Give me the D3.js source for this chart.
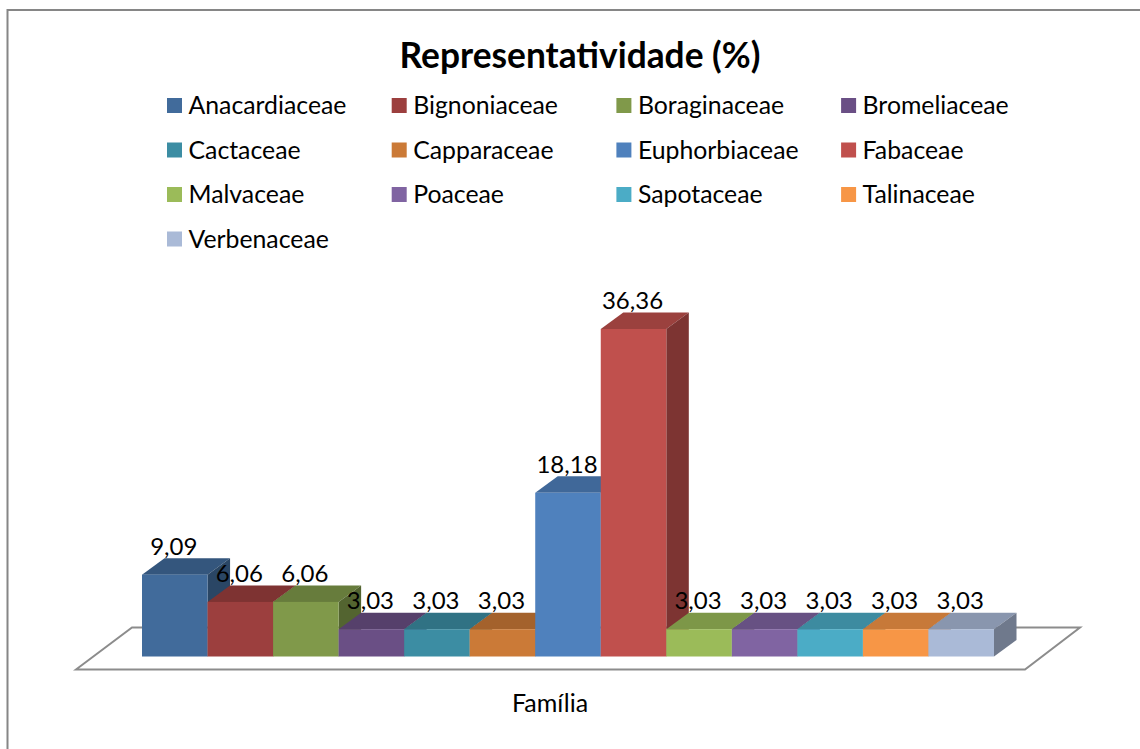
<!DOCTYPE html>
<meta charset='utf-8'>
<head>
  <style>
    html, body { margin: 0; padding: 0; background: #fff; overflow: hidden; }
    text { font-family: Lato, 'Open Sans', sans-serif; fill: #000; }
  </style>
</head>
<body>
<script src='https://d3js.org/d3.v7.min.js'></script>
<script>

var families = ['Anacardiaceae', 'Bignoniaceae', 'Boraginaceae', 'Bromeliaceae',
                'Cactaceae', 'Capparaceae', 'Euphorbiaceae', 'Fabaceae',
                'Malvaceae', 'Poaceae', 'Sapotaceae', 'Talinaceae', 'Verbenaceae'];
var values = [9.09, 6.06, 6.06, 3.03, 3.03, 3.03, 18.18, 36.36, 3.03, 3.03, 3.03, 3.03, 3.03];
var colors = ['#416b9b', '#9c3f3e', '#80994a', '#6a4f85', '#3c8da3', '#cb7a37', '#4f81bd',
              '#c0504d', '#9bbb59', '#8064a2', '#4bacc6', '#f79646', '#aabad7'];
var title = 'Representatividade (%)';
var axisTitle = 'Família';

var width = 1140, height = 749;
var depthX = 22.5, depthY = 16.5;

var x = d3.scaleBand().domain(families).range([142, 994]);
var y = d3.scaleLinear().domain([0, 36.36]).range([656.5, 329]);

var fmt = d => d.toFixed(2).replace('.', ',');

var svg = d3.select('body').append('svg')
    .attr('width', width)
    .attr('height', height)
    .style('display', 'block');

// chart frame, runs off the right and bottom of the picture
svg.append('rect')
    .attr('x', 7.5).attr('y', 10)
    .attr('width', 1150).attr('height', 760)
    .attr('fill', '#fff')
    .attr('stroke', '#868686')
    .attr('stroke-width', 2);

svg.append('text')
    .attr('x', 580).attr('y', 68)
    .attr('text-anchor', 'middle')
    .style('font-size', '35.3px')
    .style('font-weight', 700)
    .text(title);

// legend, 4 columns
var legendX = d3.scaleLinear().domain([0, 1]).range([167, 391.7]);
var legendY = d3.scaleLinear().domain([0, 1]).range([105.5, 150]);

var legend = svg.selectAll('.legend')
    .data(families)
  .enter().append('g')
    .attr('class', 'legend')
    .attr('transform', (d, i) => 'translate(' + legendX(i % 4) + ',' + legendY(Math.floor(i / 4)) + ')');

legend.append('rect')
    .attr('y', -7.5)
    .attr('width', 15).attr('height', 15)
    .attr('fill', (d, i) => colors[i]);

legend.append('text')
    .attr('x', 21.5)
    .attr('y', 8.5)
    .style('font-size', '24.8px')
    .text(d => d);

// floor of the 3d plot
svg.append('path')
    .attr('d', d3.line()([[76, 669.5], [132, 627.5], [1080, 627.5], [1025, 669.5]]) + 'Z')
    .attr('fill', '#fff')
    .attr('stroke', '#8c8c8c')
    .attr('stroke-width', 2);

// bars, left to right so that each front covers the side of the previous one
var bars = svg.selectAll('.bar')
    .data(families)
  .enter().append('g')
    .attr('class', 'bar');

bars.append('path')  // top
    .attr('d', (d, i) => {
      var x0 = x(d), x1 = x0 + x.bandwidth(), t = y(values[i]);
      return d3.line()([[x0, t], [x0 + depthX, t - depthY], [x1 + depthX, t - depthY], [x1, t]]) + 'Z';
    })
    .attr('fill', (d, i) => d3.rgb(colors[i]).darker(0.6));

bars.append('path')  // side
    .attr('d', (d, i) => {
      var x1 = x(d) + x.bandwidth(), t = y(values[i]), b = y(0);
      return d3.line()([[x1, t], [x1 + depthX, t - depthY], [x1 + depthX, b - depthY], [x1, b]]) + 'Z';
    })
    .attr('fill', (d, i) => d3.rgb(colors[i]).darker(1.2));

bars.append('rect')  // front
    .attr('x', d => x(d))
    .attr('y', (d, i) => y(values[i]))
    .attr('width', x.bandwidth())
    .attr('height', (d, i) => y(0) - y(values[i]))
    .attr('fill', (d, i) => colors[i]);

svg.selectAll('.label')
    .data(families)
  .enter().append('text')
    .attr('class', 'label')
    .attr('x', d => x(d) + x.bandwidth() / 2 - 1)
    .attr('y', (d, i) => y(values[i]) - 20)
    .attr('text-anchor', 'middle')
    .style('font-size', '24px')
    .text((d, i) => fmt(values[i]));

svg.append('text')
    .attr('x', 550).attr('y', 712)
    .attr('text-anchor', 'middle')
    .style('font-size', '25px')
    .text(axisTitle);

</script>
</body>
